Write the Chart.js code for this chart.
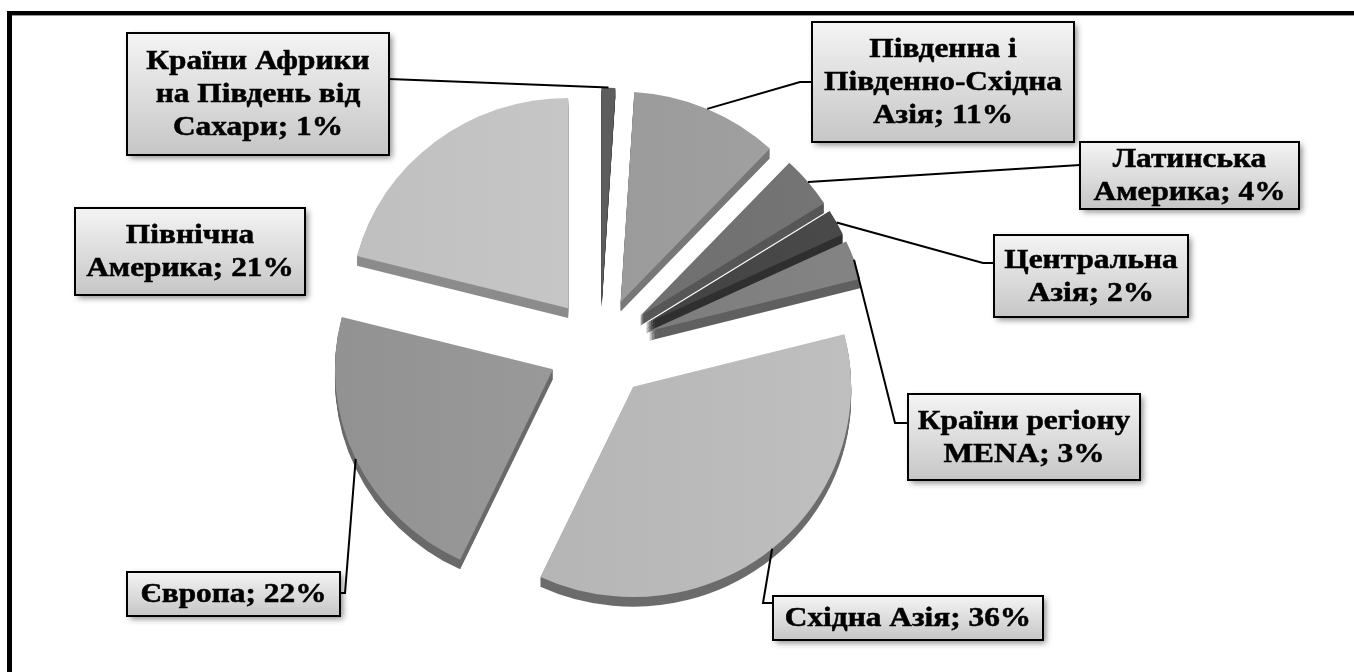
<!DOCTYPE html>
<html>
<head>
<meta charset="utf-8">
<script src="https://cdn.jsdelivr.net/npm/chart.js@4.4.0/dist/chart.umd.min.js"></script>
<style>
  html, body { margin: 0; padding: 0; background: #fff; overflow: hidden; }
  #wrap { position: relative; width: 1354px; height: 672px; }
  #pie { display: block; }
</style>
</head>
<body>
<div id="wrap"><canvas id="pie" width="1354" height="672"></canvas></div>
<script>
// data (clockwise from 12 o'clock)
const regions = [
  'Країни Африки на Південь від Сахари',
  'Південна і Південно-Східна Азія',
  'Латинська Америка',
  'Центральна Азія',
  'Країни регіону MENA',
  'Східна Азія',
  'Європа',
  'Північна Америка'
];
const shares = [1, 11, 4, 2, 3, 36, 22, 21];
// how each label name breaks into lines (value is appended to the last one)
const labelLines = [
  ['Країни Африки', 'на Південь від', 'Сахари'],
  ['Південна і', 'Південно-Східна', 'Азія'],
  ['Латинська', 'Америка'],
  ['Центральна', 'Азія'],
  ['Країни регіону', 'MENA'],
  ['Східна Азія'],
  ['Європа'],
  ['Північна', 'Америка']
];
const faceColors = ['#5e5e5e', '#9c9c9c', '#707070', '#444444', '#7e7e7e', '#b9b9b9', '#9a9a9a', '#c7c7c7'];
const sideColors = ['#4a4a4a', '#777777', '#575757', '#303030', '#606060', '#6c6c6c', '#6a6a6a', '#8c8c8c'];

// label boxes + leader knees (layout only)
const boxes = [
  { x: 127, y: 33, w: 262, h: 122, knees: [[389, 79]] },
  { x: 812, y: 22, w: 262, h: 120, knees: [[800, 82], [812, 82]] },
  { x: 1080, y: 142, w: 219, h: 67, knees: [[1080, 165]] },
  { x: 994, y: 235, w: 194, h: 82, knees: [[983, 263], [994, 263]] },
  { x: 908, y: 394, w: 232, h: 86, knees: [[895, 423], [908, 423]] },
  { x: 773, y: 596, w: 270, h: 44, knees: [[763, 603], [773, 603]] },
  { x: 127, y: 572, w: 213, h: 44, knees: [[345, 593], [340, 593]] },
  { x: 75, y: 208, w: 230, h: 87, knees: null }
];

const EXPLODE = 52;   // px each slice is pulled out
const TILT = 0.965;   // vertical squash of the pie
const DEPTH = 10;     // thickness of the 3d rim
const STRETCH = 1.12; // text is a little wider than normal in the original
const LINE_H = 33;

function shade(hex, amt) {
  const n = parseInt(hex.slice(1), 16);
  const c = v => Math.max(0, Math.min(255, v + amt));
  return `rgb(${c(n >> 16)},${c((n >> 8) & 255)},${c(n & 255)})`;
}

function sector(ctx, dy, r, a0, a1) {
  ctx.beginPath();
  ctx.moveTo(0, dy);
  ctx.arc(0, dy, r, a0, a1);
  ctx.closePath();
}

function drawLabels(chart) {
  const ctx = chart.ctx;
  const meta = chart.getDatasetMeta(0);
  // leader lines
  ctx.save();
  ctx.strokeStyle = '#000';
  ctx.lineWidth = 2;
  meta.data.forEach((arc, i) => {
    const b = boxes[i];
    if (!b.knees) return;
    const p = arc.getProps(['x', 'y', 'startAngle', 'endAngle', 'outerRadius'], true);
    const mid = (p.startAngle + p.endAngle) / 2;
    const rr = p.outerRadius + EXPLODE;
    ctx.beginPath();
    ctx.moveTo(p.x + Math.cos(mid) * rr, p.y + Math.sin(mid) * rr * TILT);
    b.knees.forEach(k => ctx.lineTo(k[0], k[1]));
    ctx.stroke();
  });
  ctx.restore();
  // boxes
  boxes.forEach((b, i) => {
    const lines = labelLines[i].slice();
    lines[lines.length - 1] += '; ' + shares[i] + '%';
    ctx.save();
    ctx.shadowColor = 'rgba(0,0,0,0.45)';
    ctx.shadowBlur = 6;
    ctx.shadowOffsetX = 3;
    ctx.shadowOffsetY = 3;
    const g = ctx.createLinearGradient(0, b.y, 0, b.y + b.h);
    g.addColorStop(0, '#f4f4f4');
    g.addColorStop(1, '#c6c6c6');
    ctx.fillStyle = g;
    ctx.fillRect(b.x, b.y, b.w, b.h);
    ctx.shadowColor = 'transparent';
    ctx.lineWidth = 2;
    ctx.strokeStyle = '#000';
    ctx.strokeRect(b.x, b.y, b.w, b.h);
    ctx.fillStyle = '#000';
    ctx.lineWidth = 0.5;
    ctx.font = 'bold 28px "Liberation Serif", "Times New Roman", serif';
    ctx.textAlign = 'center';
    ctx.textBaseline = 'middle';
    const y0 = b.y + b.h / 2 - (lines.length - 1) * LINE_H / 2 + 1;
    lines.forEach((t, k) => {
      ctx.save();
      ctx.translate(b.x + b.w / 2, y0 + k * LINE_H);
      ctx.scale(STRETCH, 1);
      ctx.fillText(t, 0, 0);
      ctx.strokeText(t, 0, 0);
      ctx.restore();
    });
    ctx.restore();
  });
}

const pie3d = {
  id: 'pie3d',
  beforeDatasetsDraw(chart) {
    const ctx = chart.ctx;
    const meta = chart.getDatasetMeta(0);
    meta.data.forEach((arc, i) => {
      const p = arc.getProps(['x', 'y', 'startAngle', 'endAngle', 'outerRadius'], true);
      const mid = (p.startAngle + p.endAngle) / 2;
      const r = p.outerRadius;
      ctx.save();
      ctx.translate(p.x, p.y);
      ctx.scale(1, TILT);
      ctx.translate(Math.cos(mid) * EXPLODE, Math.sin(mid) * EXPLODE);
      ctx.fillStyle = sideColors[i];
      for (let d = DEPTH; d > 0; d--) {
        sector(ctx, d, r, p.startAngle, p.endAngle);
        ctx.fill();
      }
      // faint left-to-right shading on the top face
      const g = ctx.createLinearGradient(-r, 0, r, 0);
      g.addColorStop(0, shade(faceColors[i], -8));
      g.addColorStop(1, shade(faceColors[i], 6));
      ctx.fillStyle = g;
      sector(ctx, 0, r, p.startAngle, p.endAngle);
      ctx.fill();
      ctx.restore();
    });
    // skip the default flat drawing
    return false;
  },
  afterDraw(chart) {
    drawLabels(chart);
    // frame (only top and left edges are inside the picture)
    const ctx = chart.ctx;
    ctx.save();
    ctx.fillStyle = '#000';
    ctx.fillRect(7, 11, 1347, 4);
    ctx.fillRect(7, 11, 5, 661);
    ctx.fillStyle = '#9a9a9a';
    ctx.fillRect(12, 15, 1342, 1);
    ctx.restore();
  }
};

new Chart(document.getElementById('pie'), {
  type: 'pie',
  data: {
    labels: regions,
    datasets: [{
      data: shares,
      backgroundColor: faceColors,
      borderWidth: 0
    }]
  },
  options: {
    responsive: false,
    animation: false,
    radius: 218,
    layout: { padding: { left: 0, right: 154, top: 24, bottom: 0 } },
    plugins: {
      legend: { display: false },
      tooltip: { enabled: false }
    }
  },
  plugins: [pie3d]
});
</script>
</body>
</html>
